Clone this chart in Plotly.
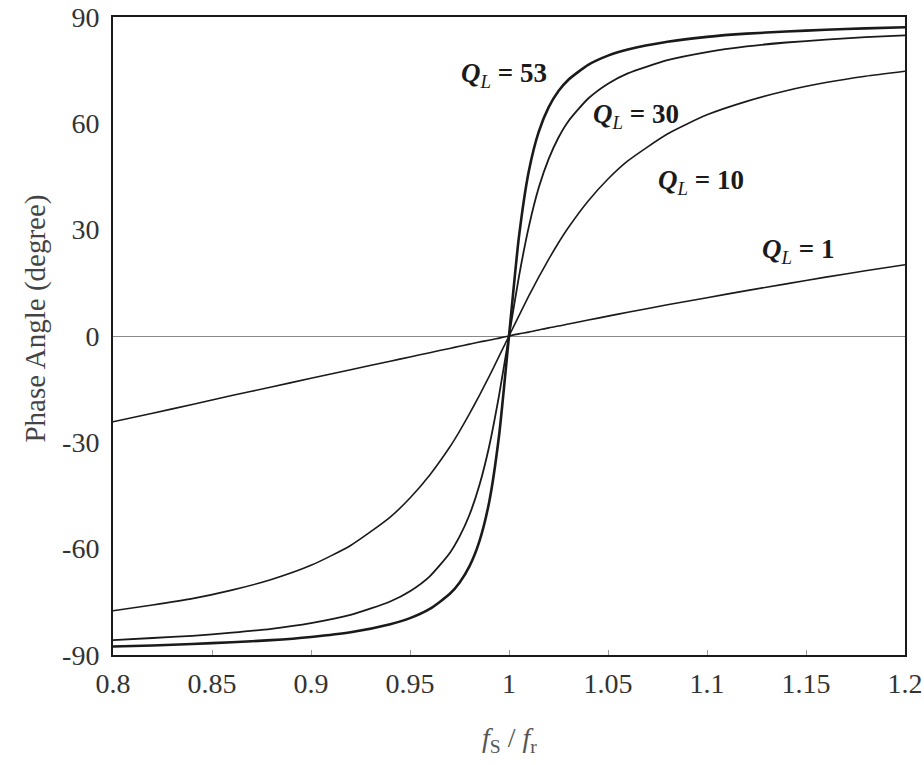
import plotly.graph_objects as go

# Normalised frequency fs/fr
freq_ratio = [0.80, 0.82, 0.84, 0.86, 0.88, 0.90, 0.92, 0.94, 0.95, 0.96, 0.97,
              0.975, 0.98, 0.985, 0.99, 0.995, 1.0, 1.005, 1.01, 1.015, 1.02,
              1.025, 1.03, 1.04, 1.05, 1.06, 1.08, 1.10, 1.12, 1.14, 1.16, 1.18, 1.20]

# Phase angle (degree) for each loaded Q
phase_q1 = [-24.2, -21.8, -19.3, -16.8, -14.4, -11.9, -9.5, -7.1, -5.9, -4.7, -3.5,
            -2.9, -2.3, -1.7, -1.2, -0.6, 0.0, 0.6, 1.1, 1.7, 2.3,
            2.8, 3.4, 4.5, 5.6, 6.7, 8.8, 10.8, 12.8, 14.7, 16.6, 18.4, 20.1]
phase_q10 = [-77.5, -75.9, -74.1, -71.7, -68.7, -64.7, -59.1, -51.1, -45.7, -39.2, -31.4,
             -26.9, -22.0, -16.8, -11.4, -5.7, 0.0, 5.7, 11.3, 16.6, 21.6,
             26.3, 30.6, 38.1, 44.3, 49.4, 57.0, 62.4, 66.2, 69.2, 71.5, 73.3, 74.7]
phase_q30 = [-85.8, -85.2, -84.6, -83.7, -82.6, -81.0, -78.7, -74.9, -72.0, -67.8, -61.3,
             -56.6, -50.5, -42.2, -31.1, -16.7, 0.0, 16.7, 30.8, 41.8, 49.9,
             56.0, 60.6, 67.0, 71.2, 74.1, 77.8, 80.1, 81.7, 82.8, 83.6, 84.3, 84.8]
phase_q53 = [-87.6, -87.3, -86.9, -86.4, -85.8, -84.9, -83.6, -81.3, -79.6, -77.0, -72.8,
             -69.6, -65.0, -58.0, -46.8, -28.0, 0.0, 27.9, 46.5, 57.6, 64.5,
             69.1, 72.3, 76.5, 79.1, 80.8, 83.0, 84.4, 85.3, 85.9, 86.4, 86.8, 87.1]

series = [
    ("1", phase_q1, 1.6),
    ("10", phase_q10, 1.6),
    ("30", phase_q30, 1.8),
    ("53", phase_q53, 2.6),
]

# Curve labels: text value, x position, y position
label_values = ["53", "30", "10", "1"]
label_x = [0.9975, 1.064, 1.097, 1.146]
label_y = [73.5, 62.0, 43.5, 24.0]

x_ticks = [0.8, 0.85, 0.9, 0.95, 1.0, 1.05, 1.1, 1.15, 1.2]
x_tick_text = ["0.8", "0.85", "0.9", "0.95", "1", "1.05", "1.1", "1.15", "1.2"]
y_ticks = [-90, -60, -30, 0, 30, 60, 90]
y_tick_text = ["-90", "-60", "-30", "0", "30", "60", "90"]

FONT = "Liberation Serif, Times New Roman, serif"
INK = "#1a1a1a"

fig = go.Figure()
for name, values, width in series:
    fig.add_trace(go.Scatter(
        x=freq_ratio, y=values, mode="lines", name="Q_L = " + name,
        line=dict(color=INK, width=width, shape="spline", smoothing=0.6),
        showlegend=False,
    ))

for text, lx, ly in zip(label_values, label_x, label_y):
    fig.add_annotation(
        x=lx, y=ly, xref="x", yref="y", showarrow=False,
        text="<b><i>Q</i></b><sub><i>L</i></sub><b> = " + text + "</b>",
        font=dict(family=FONT, size=27, color=INK),
    )

# Axis titles placed in paper coordinates
fig.add_annotation(
    x=-0.098, y=0.528, xref="paper", yref="paper", showarrow=False,
    text="Phase Angle (degree)", textangle=-90,
    font=dict(family=FONT, size=29, color="#444444"),
    xanchor="center", yanchor="middle",
)
fig.add_annotation(
    x=0.501, y=-0.133, xref="paper", yref="paper", showarrow=False,
    text="<i>f</i><sub>S</sub> / <i>f</i><sub>r</sub>",
    font=dict(family=FONT, size=28, color="#555555"),
    xanchor="center", yanchor="middle",
)

fig.update_layout(
    width=924, height=765,
    margin=dict(l=113, r=19, t=17, b=110, autoexpand=False),
    paper_bgcolor="white", plot_bgcolor="white",
    font=dict(family=FONT, color="#2a2a2a"),
)

fig.update_xaxes(
    range=[0.8, 1.2], tickvals=x_ticks, ticktext=x_tick_text,
    tickfont=dict(family=FONT, size=28, color="#333333"),
    showgrid=False, zeroline=False, automargin=False,
    showline=True, linecolor=INK, linewidth=2, mirror=True,
    ticks="inside", ticklen=5, tickcolor="#999999", tickwidth=1,
    ticklabelstandoff=2,
)
fig.update_yaxes(
    range=[-90, 90], tickvals=y_ticks, ticktext=y_tick_text,
    tickfont=dict(family=FONT, size=28, color="#333333"),
    showgrid=False, automargin=False,
    zeroline=True, zerolinecolor="#888888", zerolinewidth=1,
    showline=True, linecolor=INK, linewidth=2, mirror=True,
    ticks="", ticklabelstandoff=6,
)

fig.write_html("out.html")
